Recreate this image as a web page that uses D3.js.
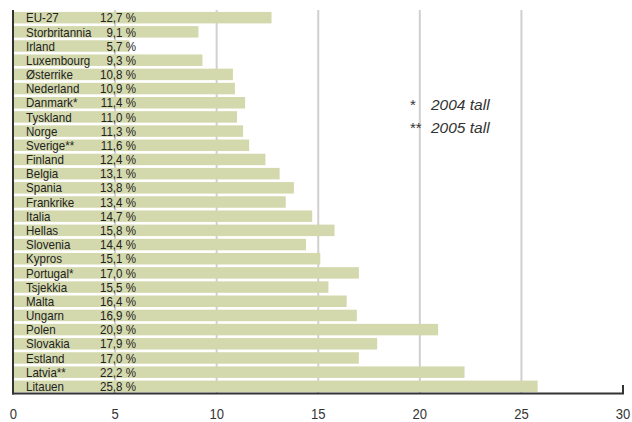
<!DOCTYPE html>
<html><head><meta charset="utf-8">
<script src="https://cdn.jsdelivr.net/npm/d3@7"></script>
<style>
body{margin:0;background:#fff;}
svg{display:block;}
</style></head>
<body>
<script>
const countries = ["EU-27","Storbritannia","Irland","Luxembourg","Østerrike","Nederland","Danmark*","Tyskland","Norge","Sverige**","Finland","Belgia","Spania","Frankrike","Italia","Hellas","Slovenia","Kypros","Portugal*","Tsjekkia","Malta","Ungarn","Polen","Slovakia","Estland","Latvia**","Litauen"];
const values = [12.7,9.1,5.7,9.3,10.8,10.9,11.4,11.0,11.3,11.6,12.4,13.1,13.8,13.4,14.7,15.8,14.4,15.1,17.0,15.5,16.4,16.9,20.9,17.9,17.0,22.2,25.8];
const tickValues = [0,5,10,15,20,25,30];
const notes = [["*","2004 tall"],["**","2005 tall"]];

const W = 632, H = 422;
const svg = d3.select("body").append("svg").attr("width",W).attr("height",H);
const font = "'Liberation Sans',Arial,sans-serif";
const sx = 0.89;

const x = d3.scaleLinear().domain([0,30]).range([13.5,623]);
const y = d3.scaleBand().domain(countries).range([10.5,393.5]).paddingInner(0.19).paddingOuter(0.1);

// gridlines
svg.append("g").selectAll("line").data(tickValues.filter(t=>t>0&&t<30)).join("line")
  .attr("x1",d=>x(d)).attr("x2",d=>x(d)).attr("y1",10).attr("y2",393)
  .attr("stroke","#d0d0d0").attr("stroke-width",2);

// bars
svg.append("g").selectAll("rect").data(countries).join("rect")
  .attr("x",x(0)).attr("y",d=>y(d)).attr("height",y.bandwidth())
  .attr("width",(d,i)=>x(values[i])-x(0)).attr("fill","#d4d9ad");

// labels (condensed via horizontal scale)
const lab = svg.append("g").attr("font-family",font).attr("font-size",13).attr("fill","#222")
  .attr("transform",`scale(${sx},1)`);
lab.selectAll("text.c").data(countries).join("text").attr("class","c")
  .attr("x",26/sx).attr("y",d=>y(d)+y.bandwidth()/2).attr("dy","0.36em").text(d=>d);
lab.selectAll("text.v").data(countries).join("text").attr("class","v")
  .attr("x",136/sx).attr("text-anchor","end").attr("y",d=>y(d)+y.bandwidth()/2).attr("dy","0.36em")
  .text((d,i)=>d3.format(".1f")(values[i]).replace(".",",")+" %");

// axes lines
svg.append("line").attr("x1",13).attr("x2",13).attr("y1",10).attr("y2",394.5).attr("stroke","#333").attr("stroke-width",2);
svg.append("line").attr("x1",12).attr("x2",624).attr("y1",393.5).attr("y2",393.5).attr("stroke","#333").attr("stroke-width",2);
svg.append("line").attr("x1",623).attr("x2",623).attr("y1",385).attr("y2",394).attr("stroke","#333").attr("stroke-width",2);

// tick labels
const tx = 0.9;
svg.append("g").attr("transform",`scale(${tx},1)`).selectAll("text").data(tickValues).join("text")
  .attr("x",d=>x(d)/tx).attr("y",419).attr("text-anchor","middle")
  .attr("font-family",font).attr("font-size",14.5).attr("fill","#333").text(d=>d);

// notes
const ng = svg.append("g").attr("font-family",font).attr("fill","#333");
notes.forEach((n,i)=>{
  ng.append("text").attr("x",410).attr("y",110+i*22.5).attr("font-size",15).text(n[0]);
  ng.append("text").attr("x",431).attr("y",110+i*22.5).attr("font-size",15.5).attr("font-style","italic").text(n[1]);
});
</script>
</body></html>
